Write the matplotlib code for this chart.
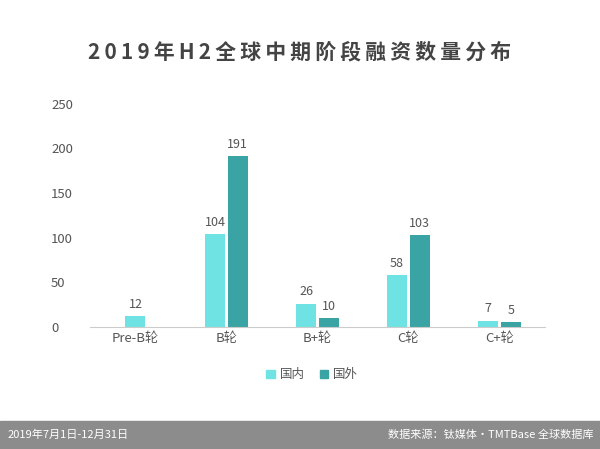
import matplotlib

matplotlib.use("Agg")

import matplotlib.pyplot as plt
from matplotlib.patches import Rectangle

plt.rcParams["font.family"] = ["Noto Sans CJK SC", "DejaVu Sans"]

categories = ["Pre-B轮", "B轮", "B+轮", "C轮", "C+轮"]
domestic = [12, 104, 26, 58, 7]
foreign = [None, 191, 10, 103, 5]
series_names = ["国内", "国外"]
title = "2019年H2全球中期阶段融资数量分布"

c_dom = "#6fe3e3"
c_for = "#3aa3a3"
text_c = "#555555"

fig = plt.figure(figsize=(6, 4.49), dpi=100)
ax = fig.add_axes([0.15, 0.272, 0.758, 0.497])

w = 0.22
for i, cat in enumerate(categories):
    if foreign[i] is None:
        xs = [(i, domestic[i], c_dom)]
    else:
        xs = [(i - w / 2 - 0.015, domestic[i], c_dom), (i + w / 2 + 0.015, foreign[i], c_for)]
    for x, v, c in xs:
        ax.bar(x, v, width=w, color=c)
        ax.text(x, v + 6, str(v), ha="center", va="bottom", fontsize=9, color=text_c)

ax.set_xlim(-0.5, 4.5)
ax.set_ylim(0, 250)
ax.set_yticks(range(0, 251, 50))
ax.set_xticks(range(len(categories)))
ax.set_xticklabels(categories)
ax.tick_params(colors=text_c, labelsize=9.5, length=0)
ax.tick_params(axis="y", pad=28)
for lbl in ax.get_yticklabels():
    lbl.set_horizontalalignment("left")
for s in ["top", "right", "left"]:
    ax.spines[s].set_visible(False)
ax.spines["bottom"].set_color("#cccccc")

handles = [Rectangle((0, 0), 1, 1, color=c_dom), Rectangle((0, 0), 1, 1, color=c_for)]
fig.legend(handles, series_names, loc="center", bbox_to_anchor=(0.52, 0.165), ncol=2,
           frameon=False, fontsize=9, handlelength=0.7, handleheight=0.7,
           columnspacing=1.2, handletextpad=0.4, labelcolor=text_c)

fig.text(0.5, 0.885, "\u2009".join(title), ha="center", va="center",
         fontsize=15, fontweight="bold", color="#444444")

fig.patches.append(Rectangle((0, 0), 1, 0.062, transform=fig.transFigure,
                             color="#8c8c8c", zorder=0))
fig.text(0.012, 0.031, "2019年7月1日-12月31日", ha="left", va="center",
         fontsize=8, color="white")
fig.text(0.99, 0.031, "数据来源：钛媒体·TMTBase 全球数据库", ha="right", va="center",
         fontsize=8, color="white")

fig.savefig("out.png", dpi=100)
